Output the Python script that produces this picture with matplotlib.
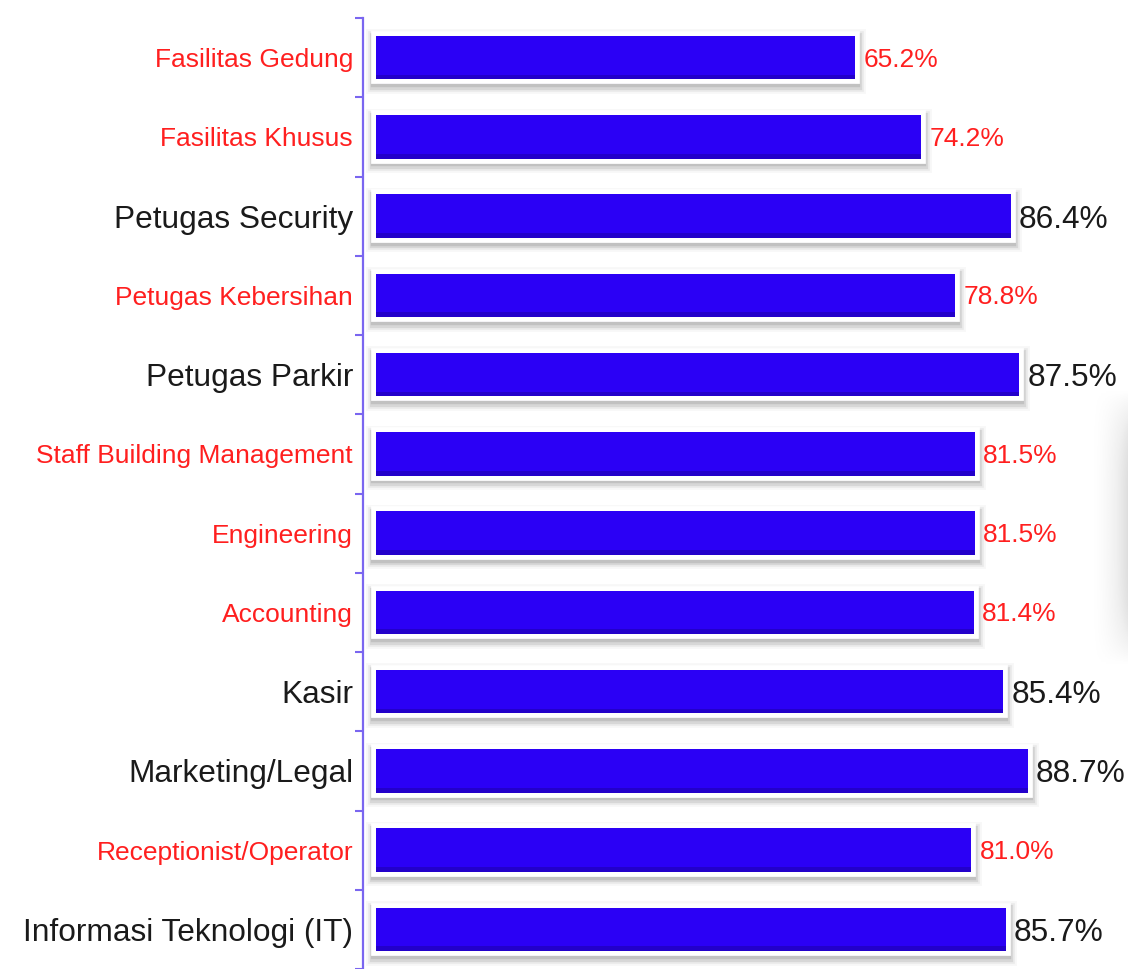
import matplotlib
matplotlib.use("Agg")
import matplotlib.pyplot as plt
import matplotlib.patheffects as pe
import numpy as np

categories = ["Fasilitas Gedung", "Fasilitas Khusus", "Petugas Security",
              "Petugas Kebersihan", "Petugas Parkir", "Staff Building Management",
              "Engineering", "Accounting", "Kasir", "Marketing/Legal",
              "Receptionist/Operator", "Informasi Teknologi (IT)"]
values = [65.2, 74.2, 86.4, 78.8, 87.5, 81.5, 81.5, 81.4, 85.4, 88.7, 81.0, 85.7]
highlight = [False, False, True, False, True, False, False, False, True, True, False, True]

plt.rcParams['font.family'] = ['Liberation Sans', 'DejaVu Sans']

W, H = 1128, 969
fig = plt.figure(figsize=(W / 100, H / 100), dpi=100)
fig.patch.set_facecolor('white')

# faint grey shade at right edge (screenshot artifact)
sh = fig.add_axes([1092 / W, 1 - 665 / H, (W - 1092) / W, 275 / H])
gx = np.linspace(0, 1, 60)
gy = np.linspace(-1, 1, 120)
GX, GY = np.meshgrid(gx, gy)
shade = np.clip(GX, 0, 1) ** 1.5 * (1 - np.abs(GY) ** 4)
sh.imshow(shade, cmap='Greys', vmin=0, vmax=4.5, aspect='auto', interpolation='bilinear')
sh.axis('off')

ax_left = 363.5 / W
ax_top = 18 / H
ax = fig.add_axes([ax_left, 0, 1 - ax_left, 1 - ax_top])
ax.patch.set_alpha(0)

px_per_unit_x = 7.35
x0_px = 375.7
xmin = -(x0_px - 363.5) / px_per_unit_x
xmax = (W - x0_px) / px_per_unit_x
ax.set_xlim(xmin, xmax)
ax.set_ylim(-0.5 + (H - 18) / 80.0, -0.5)

ys = list(range(len(categories)))
bar_color = '#2b00f5'
effects = [
    pe.Stroke(offset=(0, -2.5), linewidth=15, foreground='black', alpha=0.03),
    pe.Stroke(offset=(0, -2.5), linewidth=12, foreground='black', alpha=0.05),
    pe.Stroke(offset=(0, -2.5), linewidth=9.5, foreground='black', alpha=0.08),
    pe.Stroke(offset=(0, -2.0), linewidth=7.5, foreground='black', alpha=0.10),
    pe.Stroke(linewidth=7, foreground='white'),
    pe.Normal(),
]
bars = ax.barh(ys, values, height=0.55, color=bar_color, edgecolor='none', zorder=3)
for b in bars:
    b.set_path_effects(effects)
# darker bottom edge of each bar
edge = ax.barh([y + 0.245 for y in ys], values, height=0.06, color='#2000b8',
               edgecolor='none', zorder=4, alpha=0.7)

red = '#ff1f1f'
black = '#1a1a1a'
for y, v, hi in zip(ys, values, highlight):
    ax.annotate(f"{v:.1f}%", xy=(v, y), xytext=(6, -2.5 if hi else -1.5),
                textcoords='offset points',
                ha='left', va='center', fontsize=22.8 if hi else 19,
                color=black if hi else red, zorder=5)

ax.set_yticks(ys)
ax.set_yticklabels(categories)
for lbl, hi in zip(ax.get_yticklabels(), highlight):
    lbl.set_color(black if hi else red)
    lbl.set_fontsize(22.8 if hi else 19)
ax.tick_params(axis='y', which='major', length=0, pad=7.5)
ax.set_yticks([i - 0.5 for i in range(len(categories) + 1)], minor=True)
ax.tick_params(axis='y', which='minor', length=6, width=1.5, color='#7a66f0', direction='out')

for s in ['top', 'right', 'bottom']:
    ax.spines[s].set_visible(False)
ax.spines['left'].set_color('#7a66f0')
ax.spines['left'].set_linewidth(1.6)
ax.set_xticks([])

fig.savefig('out.png', dpi=100, facecolor='white')
